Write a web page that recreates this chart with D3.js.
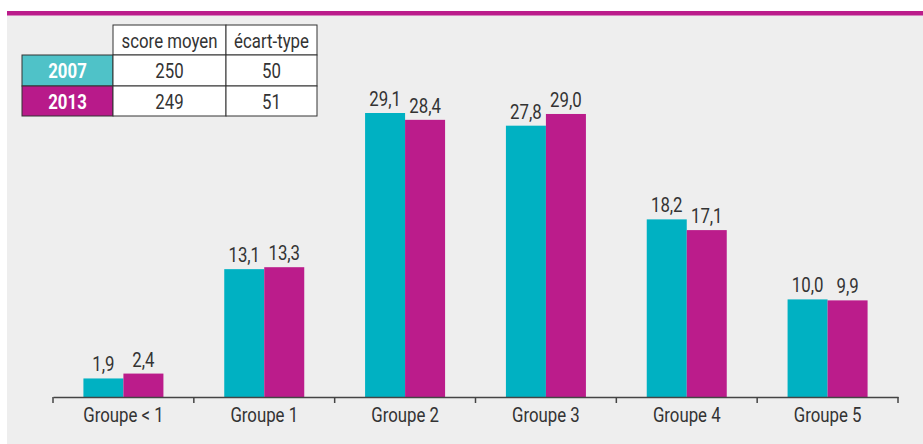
<!DOCTYPE html>
<html>
<head>
<meta charset="utf-8">
<script src="https://cdn.jsdelivr.net/npm/d3@7"></script>
<style>
  body { margin: 0; background: #fff; }
  svg text { font-family: 'Roboto', 'DejaVu Sans Condensed', sans-serif; font-weight: 400; fill: #333; }
</style>
</head>
<body>
<div id="chart"></div>
<script>
const groups = ['Groupe < 1', 'Groupe 1', 'Groupe 2', 'Groupe 3', 'Groupe 4', 'Groupe 5'];
const years = ['2007', '2013'];
const values2007 = [1.9, 13.1, 29.1, 27.8, 18.2, 10.0];
const values2013 = [2.4, 13.3, 28.4, 29.0, 17.1, 9.9];
const tableHeaders = ['score moyen', 'écart-type'];
const tableRows = [['250', '50'], ['249', '51']];

const width = 923;
const height = 444;
const colors = { '2007': '#00b1c2', '2013': '#bb1c8b' };
const tableColors = { '2007': '#4fc2c8', '2013': '#b81a8a' };
const squeeze = 0.8;
const fontSize = '21px';

const svg = d3.select('#chart').append('svg')
  .attr('width', width)
  .attr('height', height);

// narrow text: draw at (x, y) and squeeze horizontally
function narrowText(parent, x, y, str) {
  return parent.append('text')
    .attr('transform', `translate(${x},${y}) scale(${squeeze},1)`)
    .attr('text-anchor', 'middle')
    .style('font-size', fontSize)
    .text(str);
}

// background panel and top rule
svg.append('rect')
  .attr('x', 7).attr('y', 15)
  .attr('width', width - 7).attr('height', height - 15)
  .style('fill', '#eeeeee');
svg.append('rect')
  .attr('x', 7).attr('y', 11)
  .attr('width', width - 7).attr('height', 4.5)
  .style('fill', '#bb1c8b');

const baseY = 397;
const xScale = d3.scaleBand()
  .domain(groups)
  .range([53, 898]);

const yScale = d3.scaleLinear()
  .domain([0, 29.1])
  .range([baseY, 113]);

const barWidth = 40;
const data = groups.map((g, i) => ({ group: g, values: [values2007[i], values2013[i]] }));

const barGroup = svg.append('g').attr('class', 'bars');
data.forEach((d) => {
  const cx = xScale(d.group) + xScale.bandwidth() / 2;
  d.values.forEach((v, j) => {
    const x = cx - barWidth + j * barWidth;
    barGroup.append('rect')
      .attr('x', x)
      .attr('y', yScale(v))
      .attr('width', barWidth)
      .attr('height', baseY - yScale(v))
      .style('fill', colors[years[j]]);
    narrowText(barGroup, x + barWidth / 2, yScale(v) - 7, d3.format('.1f')(v).replace('.', ','));
  });
});

// x axis
const xAxis = d3.axisBottom(xScale)
  .tickSize(0)
  .tickPadding(10);
const xg = svg.append('g')
  .attr('class', 'xAxis')
  .attr('transform', `translate(0,${baseY})`)
  .call(xAxis);
xg.select('.domain').style('stroke', '#444').style('stroke-width', 1.5);
xg.selectAll('.tick text')
  .attr('transform', `scale(${squeeze},1)`)
  .style('font-size', fontSize)
  .style('font-family', "'Roboto', 'DejaVu Sans Condensed', sans-serif")
  .style('font-weight', 400)
  .style('fill', '#333');
const boundaries = groups.map((g) => xScale(g)).concat([xScale.range()[1]]);
xg.selectAll('.sep')
  .data(boundaries)
  .enter().append('line')
  .attr('x1', (d) => d).attr('x2', (d) => d)
  .attr('y1', 0).attr('y2', 6)
  .style('stroke', '#444').style('stroke-width', 1.5);

// table
const colX = [22, 113, 226, 317];
const rowY = [25, 55, 86, 116];
const table = svg.append('g').attr('class', 'table');
function cell(x0, x1, y0, y1, fill) {
  table.append('rect')
    .attr('x', x0).attr('y', y0)
    .attr('width', x1 - x0).attr('height', y1 - y0)
    .style('fill', fill).style('stroke', '#333').style('stroke-width', 1);
}
tableHeaders.forEach((h, i) => {
  cell(colX[i + 1], colX[i + 2], rowY[0], rowY[1], '#fff');
  narrowText(table, (colX[i + 1] + colX[i + 2]) / 2, rowY[0] + 23, h);
});
years.forEach((y, r) => {
  cell(colX[0], colX[1], rowY[r + 1], rowY[r + 2], tableColors[y]);
  narrowText(table, (colX[0] + colX[1]) / 2, rowY[r + 1] + 23, y)
    .style('font-weight', 'bold')
    .style('fill', '#fff');
  tableRows[r].forEach((v, c) => {
    cell(colX[c + 1], colX[c + 2], rowY[r + 1], rowY[r + 2], '#fff');
    narrowText(table, (colX[c + 1] + colX[c + 2]) / 2, rowY[r + 1] + 23, v);
  });
});
</script>
</body>
</html>
